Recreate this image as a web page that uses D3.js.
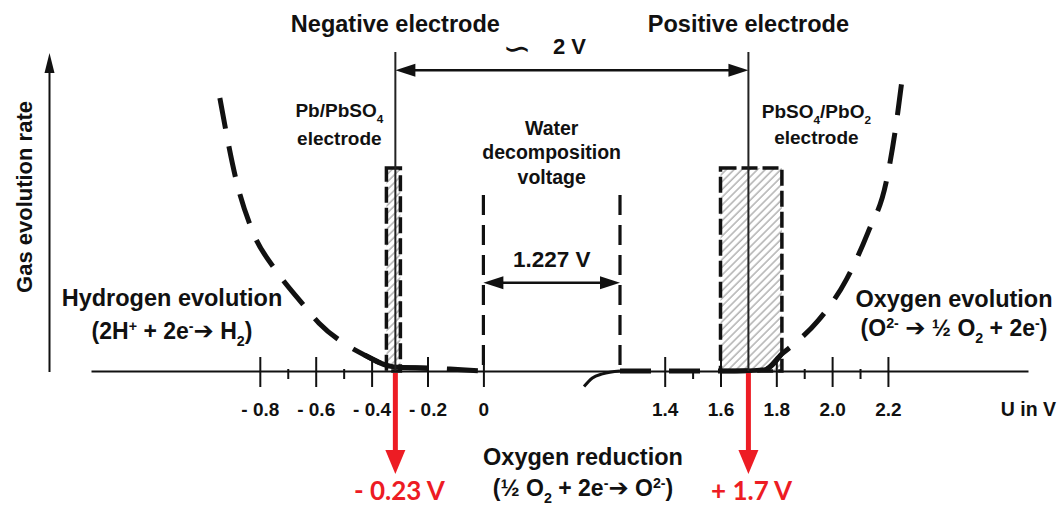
<!DOCTYPE html>
<html>
<head>
<meta charset="utf-8">
<script src="https://cdn.jsdelivr.net/npm/d3@7"></script>
<style>
  body { margin: 0; background: white; }
  #chart { width: 1058px; height: 508px; }
  text { font-family: "Liberation Sans", Arial, sans-serif; font-weight: bold; fill: #111; }
</style>
</head>
<body>
<div id="chart"></div>
<script>
// axis ticks (U in V)
const majorTicks = [-0.8, -0.6, -0.4, -0.2, 0, 1.4, 1.6, 1.8, 2.0, 2.2];
const tickLabels = ["- 0.8", "- 0.6", "- 0.4", "- 0.2", "0", "1.4", "1.6", "1.8", "2.0", "2.2"];
const minorTicks = [-0.7, -0.5, 1.5, 1.9, 2.1];

// hydrogen evolution curve (potential, gas rate)
const hydrogenV    = [-0.943, -0.882, -0.828, -0.738, -0.653, -0.588, -0.484, -0.424, -0.32, -0.195, -0.12, 0];
const hydrogenRate = [8.61, 5.93, 4.45, 3.12, 2.18, 1.51, 0.79, 0.50, 0.13, 0.09, 0.06, 0];

// oxygen evolution curve
const oxygenV    = [1.227, 1.5, 1.6, 1.7, 1.76, 1.82, 1.871, 1.949, 2.052, 2.129, 2.193, 2.225, 2.25];
const oxygenRate = [0, 0, 0, 0.01, 0.05, 0.54, 0.90, 1.58, 2.90, 4.38, 5.93, 7.51, 9.15];

// oxygen reduction (below axis)
const reductionV    = [0.904, 0.979, 1.07, 1.227];
const reductionRate = [-0.49, -0.22, -0.09, 0];

// electrodes
const electrodeV = [-0.315, 1.7];
const electrodeNames = ["Negative electrode", "Positive electrode"];
const electrodeValues = ["- 0.23 V", "+ 1.7 V"];
const electrodeBoxes = [[-0.347, -0.297], [1.6, 1.82]];
const boxTop = 6.4;

// water decomposition voltage
const waterV = [0, 1.227];

const width = 1058, height = 508;

const svg = d3.select("#chart")
    .append("svg")
    .attr("width", width)
    .attr("height", height);

// broken axis: 0 .. 1.227 is squeezed
const x = d3.scaleLinear()
    .domain([-1.404, 0, 1.227, 1.4, 2.702])
    .range([91, 483.4, 620, 664.7, 1028]);

const y = d3.scaleLinear()
    .domain([0, 10])
    .range([371, 54]);

const defs = svg.append("defs");
const hatch = defs.append("pattern")
    .attr("id", "hatch")
    .attr("patternUnits", "userSpaceOnUse")
    .attr("width", 5.5)
    .attr("height", 5.5)
    .attr("patternTransform", "rotate(45)");
hatch.append("rect").attr("width", 5.5).attr("height", 5.5).attr("fill", "white");
hatch.append("line")
    .attr("x1", 1).attr("y1", 0).attr("x2", 1).attr("y2", 5.5)
    .attr("stroke", "#8a8a8a").attr("stroke-width", 1);

function arrowHead(tipX, tipY, dir, len, half, color) {
    // dir: "left", "right", "up", "down"
    let pts;
    if (dir === "right") pts = [[tipX, tipY], [tipX - len, tipY - half], [tipX - len, tipY + half]];
    if (dir === "left") pts = [[tipX, tipY], [tipX + len, tipY - half], [tipX + len, tipY + half]];
    if (dir === "up") pts = [[tipX, tipY], [tipX - half, tipY + len], [tipX + half, tipY + len]];
    if (dir === "down") pts = [[tipX, tipY], [tipX - half, tipY - len], [tipX + half, tipY - len]];
    svg.append("path")
        .attr("d", "M" + pts.map(p => p.join(",")).join("L") + "Z")
        .attr("fill", color);
}

function doubleArrow(x1, x2, yy) {
    svg.append("line")
        .attr("x1", x1 + 10).attr("x2", x2 - 10)
        .attr("y1", yy).attr("y2", yy)
        .attr("stroke", "#111").attr("stroke-width", 2.5);
    arrowHead(x1, yy, "left", 20, 6.5, "#111");
    arrowHead(x2, yy, "right", 20, 6.5, "#111");
}

// rich text with sub / superscripts
function rich(x0, yb, parts, size, anchor) {
    const t = svg.append("text")
        .attr("x", x0)
        .attr("y", yb)
        .attr("text-anchor", anchor || "middle")
        .style("font-size", size + "px");
    let shift = 0;
    parts.forEach(p => {
        const s = typeof p === "string" ? p : p[0];
        const mode = typeof p === "string" ? null : p[1];
        let target = 0;
        if (mode === "sup") target = -size * 0.36;
        if (mode === "sub") target = size * 0.3;
        const ts = t.append("tspan").attr("dy", target - shift).text(s);
        if (mode === "sup" || mode === "sub") ts.style("font-size", (size * 0.62) + "px");
        if (mode === "arrow") ts.style("font-family", "DejaVu Sans").style("font-size", (size * 1.05) + "px");
        shift = target;
    });
    return t;
}

// ---- hatched electrode boxes ----
electrodeBoxes.forEach(b => {
    svg.append("rect")
        .attr("x", x(b[0]))
        .attr("y", y(boxTop))
        .attr("width", x(b[1]) - x(b[0]))
        .attr("height", y(0) - y(boxTop))
        .attr("fill", "url(#hatch)")
        .attr("stroke", "#111")
        .attr("stroke-width", 3.5)
        .attr("stroke-dasharray", "16,5");
});

// ---- water decomposition dashed lines ----
waterV.forEach(v => {
    svg.append("line")
        .attr("x1", x(v)).attr("x2", x(v))
        .attr("y1", y(5.55)).attr("y2", y(0))
        .attr("stroke", "#111")
        .attr("stroke-width", 3.2)
        .attr("stroke-dasharray", "20,10");
});
doubleArrow(x(waterV[0]), x(waterV[1]), y(2.78));
svg.append("text")
    .attr("x", (x(waterV[0]) + x(waterV[1])) / 2)
    .attr("y", 267)
    .attr("text-anchor", "middle")
    .style("font-size", "22.5px")
    .text("1.227 V");
["Water", "decomposition", "voltage"].forEach((s, i) => {
    svg.append("text")
        .attr("x", (x(waterV[0]) + x(waterV[1])) / 2)
        .attr("y", 135 + i * 24.3)
        .attr("text-anchor", "middle")
        .style("font-size", "19.5px")
        .text(s);
});

// ---- x axis ----
const xAxis = svg.append("g")
    .attr("transform", `translate(0,${y(0)})`)
    .call(d3.axisBottom(x)
        .tickValues(majorTicks)
        .tickFormat((d, i) => tickLabels[i])
        .tickSizeInner(16)
        .tickSizeOuter(0));
xAxis.select(".domain").attr("stroke", "#111").attr("stroke-width", 2);
xAxis.selectAll(".tick line").attr("y1", -14).attr("stroke", "#111").attr("stroke-width", 2);
xAxis.selectAll(".tick text")
    .attr("y", 45)
    .attr("dy", null)
    .attr("fill", "#111")
    .style("font-family", "Liberation Sans, Arial, sans-serif")
    .style("font-weight", "bold")
    .style("font-size", "19px");

const minorAxis = svg.append("g")
    .attr("transform", `translate(0,${y(0)})`)
    .call(d3.axisBottom(x).tickValues(minorTicks).tickFormat("").tickSizeInner(8).tickSizeOuter(0));
minorAxis.select(".domain").remove();
minorAxis.selectAll(".tick line").attr("y1", -2).attr("stroke", "#111").attr("stroke-width", 2);

svg.append("text")
    .attr("x", 1056)
    .attr("y", 416)
    .attr("text-anchor", "end")
    .style("font-size", "19.5px")
    .text("U in V");

// ---- y axis arrow ----
svg.append("line")
    .attr("x1", 49.5).attr("x2", 49.5)
    .attr("y1", y(0) + 1).attr("y2", y(10) + 15)
    .attr("stroke", "#111").attr("stroke-width", 2);
arrowHead(49.5, y(10) - 1, "up", 20, 5, "#111");
svg.append("text")
    .attr("transform", `translate(32,${197}) rotate(-90)`)
    .attr("text-anchor", "middle")
    .style("font-size", "22px")
    .text("Gas evolution rate");

// ---- curves ----
const line = d3.line()
    .x(d => x(d[0]))
    .y(d => y(d[1]))
    .curve(d3.curveMonotoneX);

const hydrogen = hydrogenV.map((v, i) => [v, hydrogenRate[i]]);
const oxygen = oxygenV.map((v, i) => [v, oxygenRate[i]]);
const reduction = reductionV.map((v, i) => [v, reductionRate[i]]);

svg.append("path")
    .datum(hydrogen)
    .attr("d", line)
    .attr("fill", "none")
    .attr("stroke", "#111")
    .attr("stroke-width", 5)
    .attr("stroke-dasharray", "31,18");
svg.append("path")
    .datum(hydrogen.filter(d => d[0] >= -0.43 && d[0] <= -0.19))
    .attr("d", line)
    .attr("fill", "none")
    .attr("stroke", "#111")
    .attr("stroke-width", 5);

svg.append("path")
    .datum(oxygen)
    .attr("d", line)
    .attr("fill", "none")
    .attr("stroke", "#111")
    .attr("stroke-width", 5)
    .attr("stroke-dasharray", "31,18");
svg.append("path")
    .datum(oxygen.filter(d => d[0] >= 1.6 && d[0] <= 1.82))
    .attr("d", line)
    .attr("fill", "none")
    .attr("stroke", "#111")
    .attr("stroke-width", 4.5);

svg.append("path")
    .datum(reduction)
    .attr("d", line)
    .attr("fill", "none")
    .attr("stroke", "#111")
    .attr("stroke-width", 3);

// ---- electrode lines and 2 V span ----
electrodeV.forEach((v, i) => {
    svg.append("line")
        .attr("x1", x(v)).attr("x2", x(v))
        .attr("y1", y(10.06)).attr("y2", y(0))
        .attr("stroke", "#222").attr("stroke-width", 2);
    svg.append("text")
        .attr("x", x(v))
        .attr("y", 32)
        .attr("text-anchor", "middle")
        .style("font-size", "23.5px")
        .text(electrodeNames[i]);
});
doubleArrow(x(electrodeV[0]), x(electrodeV[1]), y(9.49));
svg.append("text")
    .attr("x", 517)
    .attr("y", 60)
    .attr("text-anchor", "middle")
    .style("font-family", "DejaVu Sans")
    .style("font-weight", "normal")
    .style("font-size", "34px")
    .text("\u223D");
svg.append("text")
    .attr("x", 553)
    .attr("y", 54)
    .style("font-size", "22px")
    .text("2 V");

rich(x(electrodeV[0]) - 56, 117, ["Pb/PbSO", ["4", "sub"]], 19);
rich(x(electrodeV[0]) - 56, 145, ["electrode"], 19);
rich(x(electrodeV[1]) + 68, 118, ["PbSO", ["4", "sub"], "/PbO", ["2", "sub"]], 19);
rich(x(electrodeV[1]) + 68, 144, ["electrode"], 19);

// ---- reaction labels ----
rich(172, 306, ["Hydrogen evolution"], 23.5);
rich(172, 339, ["(2H", ["+", "sup"], " + 2e", ["-", "sup"], ["\u2794", "arrow"], " H", ["2", "sub"], ")"], 23);

rich(954, 307, ["Oxygen evolution"], 23.5);
rich(954, 336, ["(O", ["2-", "sup"], " ", ["\u2794", "arrow"], " \u00BD O", ["2", "sub"], " + 2e", ["-", "sup"], ")"], 23);

rich(583, 465, ["Oxygen reduction"], 23.5);
rich(583, 496, ["(\u00BD O", ["2", "sub"], " + 2e", ["-", "sup"], ["\u2794", "arrow"], " O", ["2-", "sup"], ")"], 23);

// ---- red potential arrows ----
electrodeV.forEach((v, i) => {
    const xx = x(v);
    svg.append("line")
        .attr("x1", xx).attr("x2", xx)
        .attr("y1", y(0) + 2).attr("y2", y(0) + 82)
        .attr("stroke", "#ed1c24").attr("stroke-width", 5);
    arrowHead(xx, y(0) + 103, "down", 24, 10, "#ed1c24");
    svg.append("text")
        .attr("x", i === 0 ? 354 : 711)
        .attr("y", 500)
        .style("font-family", "Lato, 'Open Sans', sans-serif")
        .style("font-size", "26px")
        .style("fill", "#ed1c24")
        .text(electrodeValues[i]);
});
</script>
</body>
</html>
